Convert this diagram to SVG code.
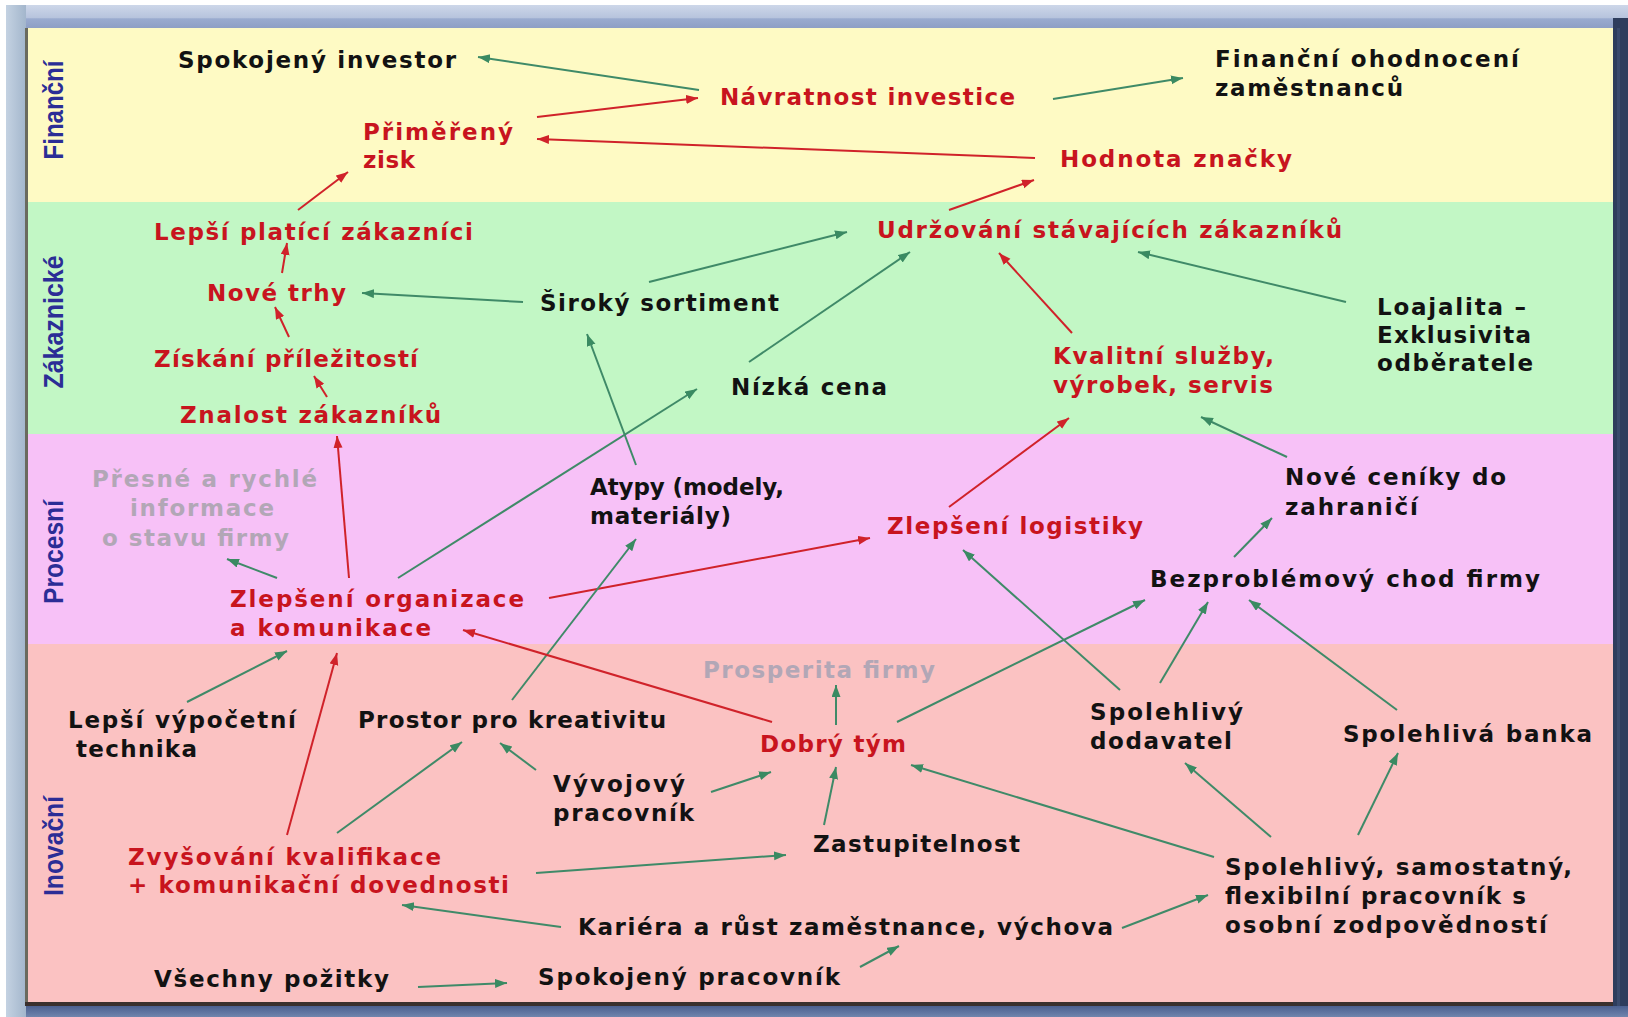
<svg xmlns="http://www.w3.org/2000/svg" width="1628" height="1017" viewBox="0 0 1628 1017">
<defs>
<style>
.t{font-family:"DejaVu Sans",Verdana,sans-serif;font-weight:bold;font-size:23px}
.k{fill:#121212}
.r{fill:#c8141e}
.gy{fill:#b2a7b6}
.v{font-family:"Liberation Sans",Arial,sans-serif;font-weight:bold;font-size:27px;fill:#2b2d96}
.cg{stroke:#3f8a68;stroke-width:2;fill:none;marker-end:url(#ag)}
.cr{stroke:#d0222a;stroke-width:2;fill:none;marker-end:url(#ar)}
</style>
<linearGradient id="topg" x1="0" y1="0" x2="0" y2="1">
<stop offset="0" stop-color="#cdd7e9"/>
<stop offset="0.55" stop-color="#b7c4dd"/>
<stop offset="0.6" stop-color="#9aabcf"/>
<stop offset="1" stop-color="#8e9fc5"/>
</linearGradient>
<linearGradient id="leftg" x1="0" y1="0" x2="1" y2="0">
<stop offset="0" stop-color="#c4d2e2"/>
<stop offset="1" stop-color="#a3b6cc"/>
</linearGradient>
<linearGradient id="botg" x1="0" y1="0" x2="0" y2="1">
<stop offset="0" stop-color="#4b6090"/>
<stop offset="1" stop-color="#7085ad"/>
</linearGradient>
<marker id="ag" markerUnits="userSpaceOnUse" markerWidth="13" markerHeight="10" refX="12" refY="4.5" orient="auto">
<path d="M0,0 L12,4.5 L0,9 z" fill="#3a8a62"/>
</marker>
<marker id="ar" markerUnits="userSpaceOnUse" markerWidth="13" markerHeight="10" refX="12" refY="4.5" orient="auto">
<path d="M0,0 L12,4.5 L0,9 z" fill="#d0222a"/>
</marker>
</defs>

<g id="frame">
<rect x="0" y="0" width="1628" height="1017" fill="#ffffff"/>
<rect x="6" y="5" width="1622" height="23" fill="url(#topg)"/>
<rect x="6" y="5" width="20" height="1012" fill="url(#leftg)"/>
<rect x="1613" y="18" width="15" height="999" fill="#2e3d5d"/>
<rect x="1617" y="28" width="3" height="980" fill="#3a4a6c"/>
<rect x="26" y="1006" width="1602" height="11" fill="url(#botg)"/>
</g>

<g id="bands">
<rect x="28" y="28" width="1585" height="174" fill="#fefac4"/>
<rect x="28" y="202" width="1585" height="232" fill="#c2f7c5"/>
<rect x="28" y="434" width="1585" height="210" fill="#f7c1f7"/>
<rect x="28" y="644" width="1585" height="358" fill="#fbc2c2"/>
<rect x="25" y="28" width="3" height="978" fill="#6a6a5e"/>
<rect x="25" y="1002" width="1588" height="4" fill="#3a302e"/>
</g>

<g id="lane-labels">
<text class="v" transform="translate(63,110) rotate(-90)" text-anchor="middle" textLength="99" lengthAdjust="spacingAndGlyphs">Finanční</text>
<text class="v" transform="translate(63,322) rotate(-90)" text-anchor="middle" textLength="133" lengthAdjust="spacingAndGlyphs">Zákaznické</text>
<text class="v" transform="translate(63,552) rotate(-90)" text-anchor="middle" textLength="104" lengthAdjust="spacingAndGlyphs">Procesní</text>
<text class="v" transform="translate(63,846) rotate(-90)" text-anchor="middle" textLength="100" lengthAdjust="spacingAndGlyphs">Inovační</text>
</g>

<g id="connectors">
<line class="cg" x1="699" y1="90" x2="478" y2="57"/>
<line class="cr" x1="537" y1="117" x2="698" y2="98"/>
<line class="cg" x1="1053" y1="99" x2="1183" y2="78"/>
<line class="cr" x1="1035" y1="158" x2="537" y2="139"/>
<line class="cr" x1="298" y1="210" x2="348" y2="172"/>
<line class="cr" x1="949" y1="210" x2="1034" y2="180"/>
<line class="cr" x1="282" y1="273" x2="287" y2="243"/>
<line class="cg" x1="523" y1="302" x2="362" y2="293"/>
<line class="cg" x1="649" y1="282" x2="847" y2="232"/>
<line class="cr" x1="289" y1="337" x2="275" y2="307"/>
<line class="cr" x1="327" y1="397" x2="314" y2="376"/>
<line class="cg" x1="749" y1="362" x2="910" y2="252"/>
<line class="cr" x1="1072" y1="333" x2="999" y2="253"/>
<line class="cg" x1="1346" y1="302" x2="1138" y2="252"/>
<line class="cg" x1="636" y1="465" x2="587" y2="334"/>
<line class="cr" x1="349" y1="578" x2="337" y2="436"/>
<line class="cg" x1="398" y1="578" x2="697" y2="389"/>
<line class="cg" x1="277" y1="578" x2="227" y2="559"/>
<line class="cr" x1="549" y1="598" x2="870" y2="538"/>
<line class="cr" x1="949" y1="507" x2="1069" y2="418"/>
<line class="cg" x1="1287" y1="457" x2="1201" y2="417"/>
<line class="cg" x1="1234" y1="557" x2="1272" y2="518"/>
<line class="cg" x1="512" y1="700" x2="636" y2="539"/>
<line class="cg" x1="187" y1="702" x2="287" y2="651"/>
<line class="cr" x1="287" y1="835" x2="337" y2="653"/>
<line class="cr" x1="772" y1="722" x2="463" y2="630"/>
<line class="cg" x1="836" y1="725" x2="836" y2="685"/>
<line class="cg" x1="897" y1="722" x2="1145" y2="600"/>
<line class="cg" x1="1120" y1="690" x2="963" y2="550"/>
<line class="cg" x1="1160" y1="683" x2="1208" y2="602"/>
<line class="cg" x1="1397" y1="710" x2="1249" y2="600"/>
<line class="cg" x1="337" y1="833" x2="462" y2="742"/>
<line class="cg" x1="536" y1="770" x2="500" y2="743"/>
<line class="cg" x1="711" y1="792" x2="771" y2="772"/>
<line class="cg" x1="824" y1="825" x2="836" y2="767"/>
<line class="cg" x1="1214" y1="857" x2="911" y2="765"/>
<line class="cg" x1="1271" y1="837" x2="1185" y2="763"/>
<line class="cg" x1="1358" y1="835" x2="1398" y2="753"/>
<line class="cg" x1="536" y1="873" x2="786" y2="855"/>
<line class="cg" x1="561" y1="927" x2="402" y2="905"/>
<line class="cg" x1="1122" y1="928" x2="1208" y2="895"/>
<line class="cg" x1="418" y1="987" x2="507" y2="983"/>
<line class="cg" x1="860" y1="967" x2="899" y2="946"/>
</g>

<g id="n-spokojeny-investor"><text class="t k" x="178" y="68" textLength="278">Spokojený investor</text></g>
<g id="n-navratnost"><text class="t r" x="720" y="105" textLength="295">Návratnost investice</text></g>
<g id="n-financni-ohodnoceni"><text class="t k" x="1215" y="67" textLength="304">Finanční ohodnocení</text><text class="t k" x="1215" y="96" textLength="188">zaměstnanců</text></g>
<g id="n-primereny-zisk"><text class="t r" x="363" y="140" textLength="150">Přiměřený</text><text class="t r" x="363" y="168" textLength="52">zisk</text></g>
<g id="n-hodnota-znacky"><text class="t r" x="1060" y="167" textLength="232">Hodnota značky</text></g>
<g id="n-lepsi-platici"><text class="t r" x="154" y="240" textLength="319">Lepší platící zákazníci</text></g>
<g id="n-udrzovani"><text class="t r" x="877" y="238" textLength="465">Udržování stávajících zákazníků</text></g>
<g id="n-nove-trhy"><text class="t r" x="207" y="301" textLength="139">Nové trhy</text></g>
<g id="n-siroky-sortiment"><text class="t k" x="540" y="311" textLength="239">Široký sortiment</text></g>
<g id="n-loajalita"><text class="t k" x="1377" y="315" textLength="149">Loajalita –</text><text class="t k" x="1377" y="343" textLength="154">Exklusivita</text><text class="t k" x="1377" y="371" textLength="156">odběratele</text></g>
<g id="n-ziskani"><text class="t r" x="154" y="367" textLength="264">Získání příležitostí</text></g>
<g id="n-kvalitni"><text class="t r" x="1053" y="364" textLength="221">Kvalitní služby,</text><text class="t r" x="1053" y="393" textLength="220">výrobek, servis</text></g>
<g id="n-nizka-cena"><text class="t k" x="731" y="395" textLength="156">Nízká cena</text></g>
<g id="n-znalost"><text class="t r" x="180" y="423" textLength="261">Znalost zákazníků</text></g>
<g id="n-presne"><text class="t gy" x="92" y="487" textLength="225">Přesné a rychlé</text><text class="t gy" x="130" y="516" textLength="144">informace</text><text class="t gy" x="102" y="546" textLength="187">o stavu firmy</text></g>
<g id="n-atypy"><text class="t k" x="590" y="495" textLength="194">Atypy (modely,</text><text class="t k" x="590" y="524" textLength="141">materiály)</text></g>
<g id="n-nove-ceniky"><text class="t k" x="1285" y="485" textLength="221">Nové ceníky do</text><text class="t k" x="1285" y="515" textLength="133">zahraničí</text></g>
<g id="n-logistiky"><text class="t r" x="887" y="534" textLength="256">Zlepšení logistiky</text></g>
<g id="n-bezproblemovy"><text class="t k" x="1150" y="587" textLength="390">Bezproblémový chod firmy</text></g>
<g id="n-organizace"><text class="t r" x="230" y="607" textLength="294">Zlepšení organizace</text><text class="t r" x="230" y="636" textLength="201">a komunikace</text></g>
<g id="n-prosperita"><text class="t gy" x="703" y="678" textLength="232">Prosperita firmy</text></g>
<g id="n-lepsi-vypocetni"><text class="t k" x="68" y="728" textLength="228">Lepší výpočetní</text><text class="t k" x="76" y="757" textLength="121">technika</text></g>
<g id="n-prostor"><text class="t k" x="358" y="728" textLength="308">Prostor pro kreativitu</text></g>
<g id="n-spolehlivy-dodavatel"><text class="t k" x="1090" y="720" textLength="153">Spolehlivý</text><text class="t k" x="1090" y="749" textLength="142">dodavatel</text></g>
<g id="n-banka"><text class="t k" x="1343" y="742" textLength="249">Spolehlivá banka</text></g>
<g id="n-dobry-tym"><text class="t r" x="760" y="752" textLength="146">Dobrý tým</text></g>
<g id="n-vyvojovy"><text class="t k" x="553" y="792" textLength="132">Vývojový</text><text class="t k" x="553" y="821" textLength="141">pracovník</text></g>
<g id="n-zastupitelnost"><text class="t k" x="813" y="852" textLength="207">Zastupitelnost</text></g>
<g id="n-zvysovani"><text class="t r" x="128" y="865" textLength="313">Zvyšování kvalifikace</text><text class="t r" x="128" y="893" textLength="381">+ komunikační dovednosti</text></g>
<g id="n-spolehlivy-pracovnik"><text class="t k" x="1225" y="875" textLength="347">Spolehlivý, samostatný,</text><text class="t k" x="1225" y="904" textLength="301">flexibilní pracovník s</text><text class="t k" x="1225" y="933" textLength="322">osobní zodpovědností</text></g>
<g id="n-kariera"><text class="t k" x="578" y="935" textLength="535">Kariéra a růst zaměstnance, výchova</text></g>
<g id="n-vsechny-pozitky"><text class="t k" x="154" y="987" textLength="235">Všechny požitky</text></g>
<g id="n-spokojeny-pracovnik"><text class="t k" x="538" y="985" textLength="302">Spokojený pracovník</text></g>
</svg>
